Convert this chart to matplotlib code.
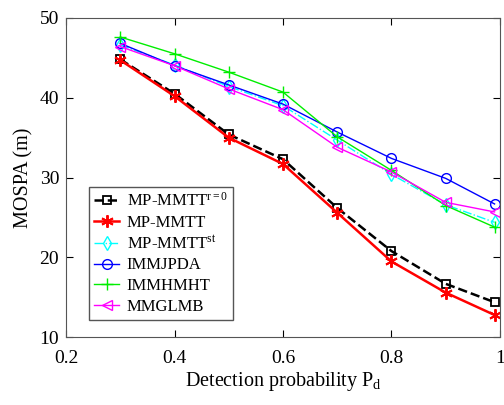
import numpy as np
import matplotlib
matplotlib.use("Agg")
import matplotlib.pyplot as plt

plt.rcParams['font.family'] = ['Liberation Serif', 'DejaVu Serif']
plt.rcParams['mathtext.fontset'] = 'custom'
plt.rcParams['mathtext.rm'] = 'Liberation Serif'
plt.rcParams['mathtext.it'] = 'Liberation Serif'

# detection probability
pd_vals = [0.3, 0.4, 0.5, 0.6, 0.7, 0.8, 0.9, 0.99]

mpmmtt_r0 = [44.8, 40.5, 35.4, 32.3, 26.2, 20.8, 16.7, 14.4]
mpmmtt = [44.7, 40.2, 35.0, 31.7, 25.6, 19.5, 15.6, 12.8]
mpmmtt_st = [46.6, 44.1, 41.4, 39.0, 34.7, 30.4, 26.6, 24.4]
immjpda = [46.8, 44.0, 41.6, 39.2, 35.7, 32.4, 29.9, 26.7]
immhmht = [47.6, 45.5, 43.2, 40.7, 35.1, 30.9, 26.5, 23.8]
mmglmb = [46.4, 44.0, 41.1, 38.5, 33.8, 30.7, 26.9, 25.7]

fig = plt.figure(figsize=(5.04, 4.05), dpi=100)
ax = fig.add_axes([0.131, 0.167, 0.861, 0.789])

ax.plot(pd_vals, mpmmtt_r0, 'k--s', lw=1.8, ms=6, mfc='none', mew=1.3,
        label='MP-MMTT$^{r=0}$')
ax.plot(pd_vals, mpmmtt, 'r-', marker=(6, 2, 0), lw=1.8, ms=9, mew=1.4,
        label='MP-MMTT')
ax.plot(pd_vals, mpmmtt_st, '-.d', color='cyan', lw=1.0, ms=7, mfc='none',
        label='MP-MMTT$^{st}$')
ax.plot(pd_vals, immjpda, '-o', color='blue', lw=1.0, ms=7, mfc='none',
        label='IMMJPDA')
ax.plot(pd_vals, immhmht, '-+', color='#00ee00', lw=1.0, ms=9, mew=1.0,
        label='IMMHMHT')
ax.plot(pd_vals, mmglmb, '-<', color='magenta', lw=1.0, ms=7, mfc='none',
        label='MMGLMB')

ax.set_xlim(0.2, 1.0)
ax.set_ylim(10, 50)
ax.set_xticks([0.2, 0.4, 0.6, 0.8, 1.0])
ax.set_xticklabels(['0.2', '0.4', '0.6', '0.8', '1'])
ax.set_yticks([10, 20, 30, 40, 50])
ax.tick_params(direction='in', top=True, right=True, labelsize=14, length=5)
ax.tick_params(axis='x', pad=9)
ax.tick_params(axis='y', pad=5)
for s in ax.spines.values():
    s.set_color('#555555')

ax.set_xlabel('Detection probability P$_{d}$', fontsize=14.5, labelpad=2)
ax.set_ylabel('MOSPA (m)', fontsize=14.5, labelpad=4)

leg = ax.legend(loc='lower left', bbox_to_anchor=(0.053, 0.055), fontsize=12,
                fancybox=False, framealpha=1, edgecolor='#555555',
                handlelength=1.5, handletextpad=0.45, borderpad=0.3,
                labelspacing=0.28, borderaxespad=0)
leg.get_frame().set_linewidth(1.0)

fig.savefig('out.png', dpi=100)
